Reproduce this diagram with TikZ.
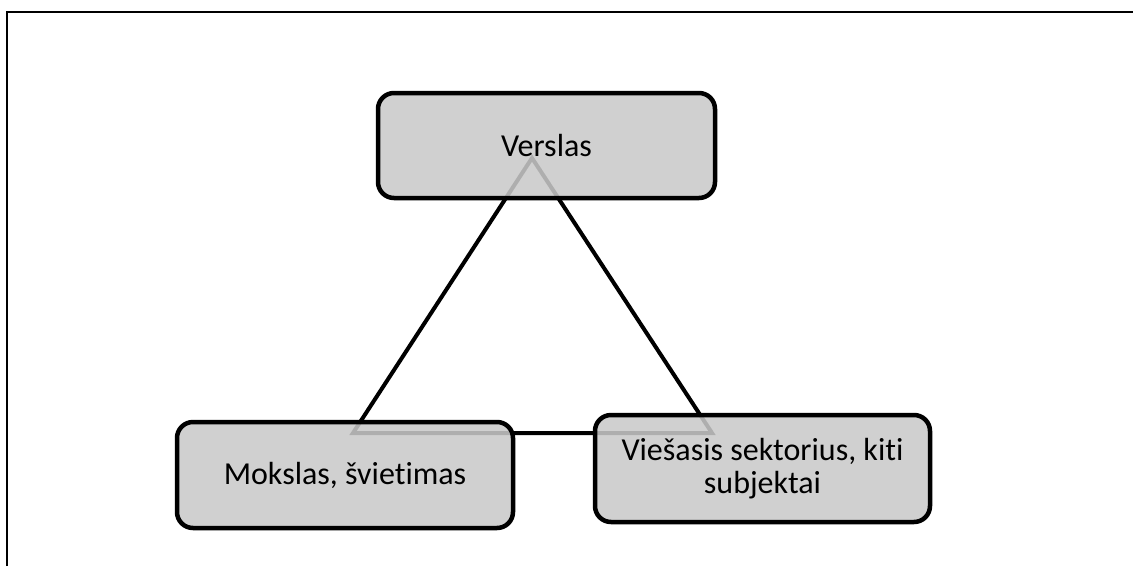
\documentclass[tikz,border=0pt]{standalone}
\usepackage{fontspec}
\setmainfont[Ligatures=NoCommon]{Carlito}
\begin{document}
\begin{tikzpicture}[x=1pt,y=-1pt,
  box/.style={draw=black, line width=4.5pt, rounded corners=16pt, fill=black!21, fill opacity=0.87, text opacity=1,
    minimum width=#1, align=center, font=\fontsize{32}{33.5}\selectfont, inner sep=0pt},
  tri/.style={draw=black, line width=4pt},
  frameline/.style={draw=black, line width=2pt}]
\useasboundingbox (0,0) rectangle (1133,566);
\draw[frameline] (7,566) -- (7,12) -- (1133,12);
% triangle behind the boxes
\coordinate (apex) at (532,158);
\coordinate (bl) at (353,433);
\coordinate (br) at (712,433);
\draw[tri, line join=miter] (apex) -- (bl) -- (br) -- cycle;
% boxes
\node[box=337pt, minimum height=105pt] (verslas) at (546.5,145.5) {Verslas};
\node[box=336pt, minimum height=106pt] (mokslas) at (345,475) {Mokslas, švietimas};
\node[box=335pt, minimum height=107pt] (viesasis) at (762.5,468.5) {Viešasis sektorius, kiti\\subjektai};
\end{tikzpicture}
\end{document}
